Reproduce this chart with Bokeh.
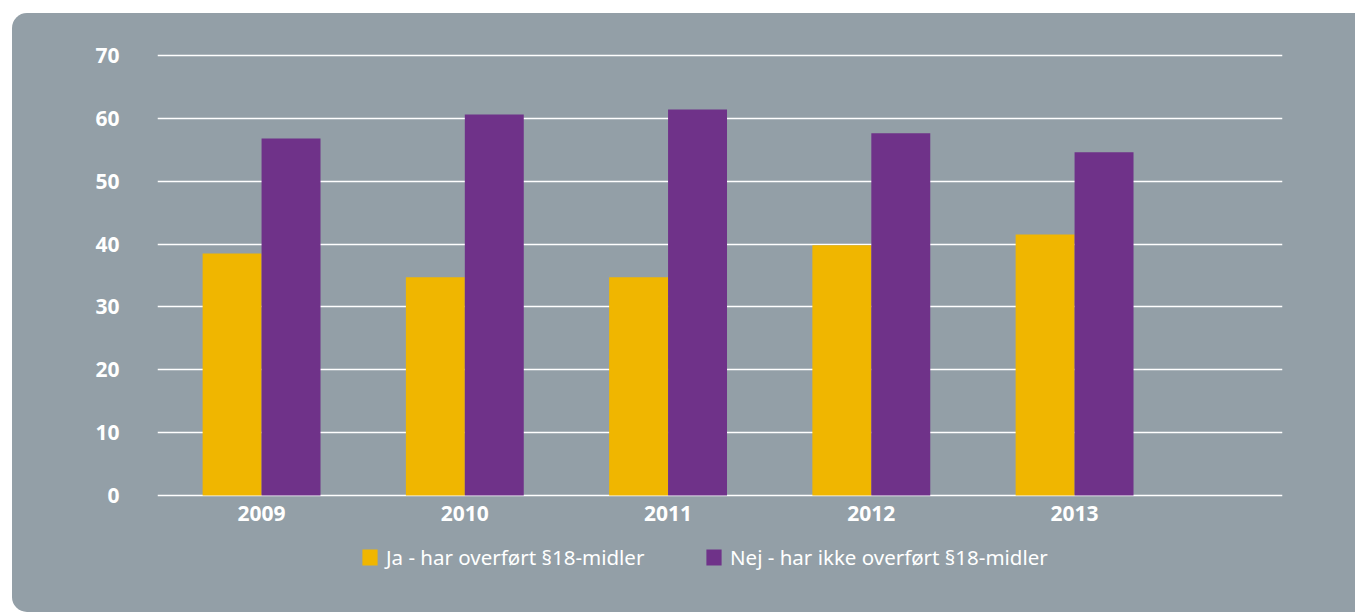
from bokeh.plotting import figure
from bokeh.models import Range1d, FixedTicker, Legend, LegendItem, ColumnDataSource, LabelSet
from bokeh.core.properties import value
from bokeh.embed import file_html
from bokeh.resources import INLINE
import numpy as np

years = ["2009", "2010", "2011", "2012", "2013"]
ja = [38.5, 34.7, 34.7, 39.8, 41.5]
nej = [56.8, 60.6, 61.4, 57.6, 54.6]
y_ticks = [0, 10, 20, 30, 40, 50, 60, 70]
labels = ["Ja - har overført §18-midler", "Nej - har ikke overført §18-midler"]

BG = "#939FA7"
YEL = "#F0B600"
PUR = "#6F3289"
FONT = "Noto Sans"

idx = np.arange(len(years))
w = 0.29
src = ColumnDataSource(dict(x=idx, x_ja=idx - w / 2, x_nej=idx + w / 2, ja=ja, nej=nej,
                            year=years, base=[0] * len(years)))

p = figure(width=1343, height=599, output_backend="svg", toolbar_location=None,
           x_range=Range1d(-0.512, 5.023), y_range=Range1d(-18.6, 70.3),
           x_axis_location=None,
           min_border_left=145, min_border_right=73, min_border_top=40, min_border_bottom=0)
p.margin = (13, 0, 0, 12)
p.styles = {"border-radius": "15px 0px 0px 15px", "overflow": "hidden", "background-color": BG}
p.background_fill_alpha = 0
p.border_fill_alpha = 0
p.outline_line_color = None

r1 = p.vbar(x="x_ja", top="ja", bottom=0, width=w, source=src, fill_color=YEL, line_color=None)
r2 = p.vbar(x="x_nej", top="nej", bottom=0, width=w, source=src, fill_color=PUR, line_color=None)
r1.level = "overlay"
r2.level = "overlay"

p.xgrid.grid_line_color = None
p.ygrid.ticker = FixedTicker(ticks=y_ticks)
p.ygrid.grid_line_color = "white"
p.ygrid.grid_line_width = 1.5

p.yaxis.ticker = FixedTicker(ticks=y_ticks)
ax = p.yaxis[0]
ax.axis_line_color = None
ax.major_tick_line_color = None
ax.minor_tick_line_color = None
ax.major_label_text_color = "white"
ax.major_label_text_font = FONT
ax.major_label_text_font_style = "bold"
ax.major_label_text_font_size = "21px"
ax.major_label_standoff = 32

xl = LabelSet(x="x", y="base", text="year", source=src, text_align="center",
              text_baseline="top", y_offset=-10, text_color="white", text_font=value(FONT),
              text_font_style="bold", text_font_size="21px")
p.add_layout(xl)

for r, lab, loc in ((r1, labels[0], (203, 41)), (r2, labels[1], (547, 41))):
    lg = Legend(items=[LegendItem(label=lab, renderers=[r])], location=loc,
                orientation="horizontal", background_fill_alpha=0, border_line_color=None,
                padding=0, margin=0, glyph_width=19, glyph_height=20, label_height=20,
                label_standoff=7, label_text_color="white", label_text_font=FONT,
                label_text_font_size="20.5px", label_text_baseline="middle")
    p.add_layout(lg, "center")

open("out.html", "w").write(file_html(p, INLINE))
